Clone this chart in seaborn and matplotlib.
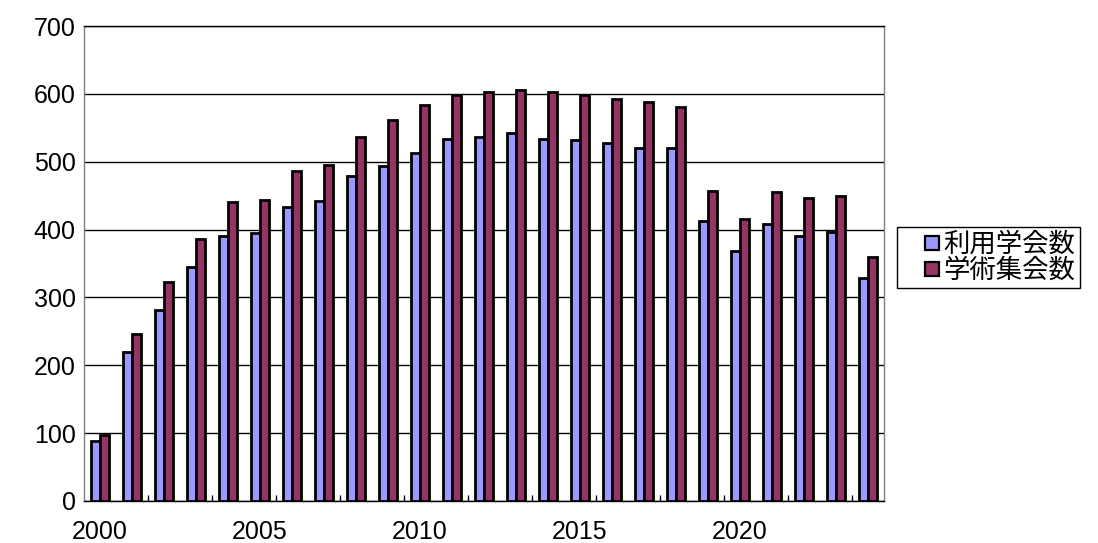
import matplotlib
matplotlib.use("Agg")
import matplotlib.pyplot as plt
import pandas as pd
import seaborn as sns
from matplotlib.legend_handler import HandlerPatch
from matplotlib.patches import Rectangle

# values
years = list(range(2000, 2025))
societies = [89, 219, 282, 345, 391, 395, 433, 442, 479, 493, 513, 534, 536,
             542, 533, 532, 527, 520, 520, 412, 368, 408, 391, 397, 328]
meetings = [97, 246, 323, 386, 440, 444, 487, 495, 537, 561, 584, 598, 603,
            606, 603, 598, 592, 588, 581, 457, 415, 456, 447, 449, 360]
series_names = ["利用学会数", "学術集会数"]
tick_years = [2000, 2005, 2010, 2015, 2020]

df = pd.DataFrame({
    "year": years * 2,
    "value": societies + meetings,
    "series": [series_names[0]] * len(years) + [series_names[1]] * len(years),
})

sns.set_style("white")
plt.rcParams["font.family"] = ["Liberation Sans", "Noto Sans CJK JP"]
plt.rcParams["text.color"] = "black"
plt.rcParams["xtick.color"] = "black"
plt.rcParams["ytick.color"] = "black"

fig = plt.figure(figsize=(10.98, 5.43), dpi=100)
ax = fig.add_axes([84 / 1098, 1 - 501 / 543, 800 / 1098, 475 / 543])

sns.barplot(data=df, x="year", y="value", hue="series", order=years,
            hue_order=series_names, palette=["#9999FF", "#993366"],
            width=0.58, edgecolor="black", linewidth=2.0, ax=ax,
            saturation=1, errorbar=None)

ax.set_xlim(-0.5, len(years) - 0.5)
ax.set_ylim(0, 700)
ax.set_yticks(range(0, 701, 100))
ax.yaxis.grid(True, color="black", linewidth=1.0)
ax.set_axisbelow(True)

ax.set_xticks([years.index(y) for y in tick_years])
ax.set_xticklabels([str(y) for y in tick_years])
ax.set_xticks([i + 1.5 for i in range(0, len(years) - 1, 2)], minor=True)
ax.tick_params(axis="x", which="major", length=0, labelsize=18, pad=14)
ax.tick_params(axis="x", which="minor", direction="in", length=4,
               width=1, color="black", bottom=True)
ax.tick_params(axis="y", length=0, labelsize=18, pad=6)
ax.set_xlabel("")
ax.set_ylabel("")

for side in ["left", "bottom", "right", "top"]:
    ax.spines[side].set_visible(True)
    ax.spines[side].set_color("black")
    ax.spines[side].set_linewidth(1.0)
ax.spines["left"].set_color("#808080")
ax.spines["right"].set_color("#808080")


# small square swatch sitting at the right end of the handle box
def square_at_right(legend, orig_handle, xdescent, ydescent, width, height, fontsize):
    s = 10
    return Rectangle((width - s - xdescent, (height - s) / 2 - ydescent), s, s)


handles, labels = ax.get_legend_handles_labels()
ax.legend_.remove()
leg = fig.legend(handles, labels, loc="upper left",
                 bbox_to_anchor=(897 / 1098, 1 - 227 / 543),
                 frameon=True, fancybox=False, framealpha=1,
                 edgecolor="black", fontsize=19, handlelength=1.4,
                 handleheight=0.7, handletextpad=0.15, borderpad=0.2,
                 labelspacing=0.05, borderaxespad=0,
                 handler_map={Rectangle: HandlerPatch(patch_func=square_at_right)})
leg.get_frame().set_linewidth(1.0)
for h in leg.legend_handles:
    h.set_linewidth(1.6)
    h.set_edgecolor("black")

fig.savefig("out.png", dpi=100)
